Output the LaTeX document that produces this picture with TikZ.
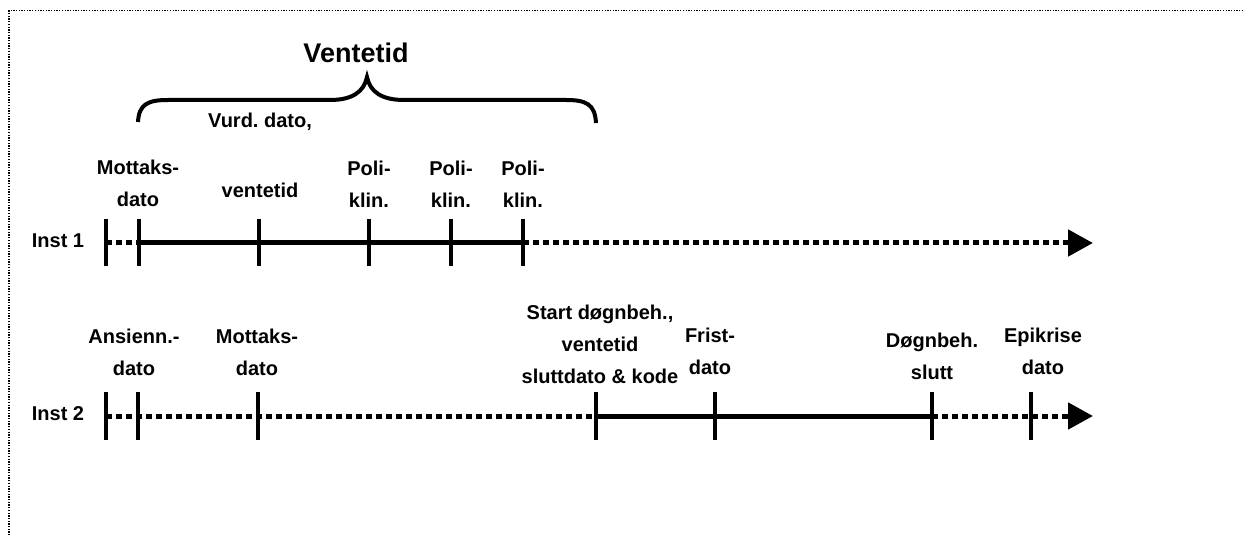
\documentclass[tikz,border=0pt]{standalone}
\usepackage{fontspec}
\setmainfont{Liberation Sans}
\usetikzlibrary{arrows.meta}
\frenchspacing

\begin{document}
\begin{tikzpicture}[%
    x=1pt, y=-1pt,
    line width=5pt,
    fullline/.style={draw=black, line width=5pt},
    dotline/.style={draw=black, line width=5pt, dash pattern=on 5.5pt off 4.5pt},
    tickmark/.style={draw=black, line width=4.5pt},
    bracket/.style={draw=black, line width=4pt},
    arrowend/.style={-{Triangle[length=25pt, width=26pt]}},
    lbl/.style={
        font=\bfseries\fontsize{20}{32}\selectfont,
        align=center,
        anchor=south,
        inner sep=0pt,
        text depth=0pt
    }
]
    % Fixed page size and the dotted frame.
    \useasboundingbox (0,0) rectangle (1243,537);
    \draw[line width=1.3pt, dash pattern=on 1.3pt off 1.4pt]
        (1243,10.5) -- (9,10.5) -- (9,537);

    % Points for the first line.
    \coordinate (r1a) at (106, 243);
    \coordinate (r1b) at (139, 243);
    \coordinate (r1c) at (259, 243);
    \coordinate (r1d) at (369, 243);
    \coordinate (r1e) at (451, 243);
    \coordinate (r1f) at (523, 243);
    \coordinate (r1end) at (1093, 243);

    % Points for the second line.
    \coordinate (r2a) at (106, 416);
    \coordinate (r2b) at (138, 416);
    \coordinate (r2c) at (258, 416);
    \coordinate (r2d) at (596, 416);
    \coordinate (r2e) at (715, 416);
    \coordinate (r2f) at (932, 416);
    \coordinate (r2g) at (1031, 416);
    \coordinate (r2end) at (1093, 416);

    % Points for the brace.
    \coordinate (brl) at (138, 122);
    \coordinate (brtip) at (367, 77);
    \coordinate (brr) at (596, 123);

    % The brace and its label.
    \draw[bracket] (brl) .. controls (139,104) and (148,100) .. (168,100)
                         -- (330,100)
                         .. controls (352,100) and (364,92) .. (brtip)
                         .. controls (370,92) and (382,100) .. (404,100)
                         -- (566,100)
                         .. controls (586,100) and (595,104) .. (brr);
    \node[font=\bfseries\fontsize{27}{30}\selectfont, anchor=base, inner sep=0pt]
        (ventetid) at (356,63) {Ventetid};

    % First line.
    \draw[dotline] (r1a) -- (r1b);
    \draw[fullline] (r1b) -- (r1f);
    \draw[dotline, arrowend] (r1f) -- (r1end);
    \foreach \p in {r1a,r1b,r1c,r1d,r1e,r1f}
        \draw[tickmark] (\p) ++(0,-23.5) -- ++(0,47);

    \node[lbl] (inst1) at (58,250) {Inst 1};
    \node[lbl] (mottak1) at (138,209) {Mottaks-\\dato};
    \node[lbl] (vurd) at (260,200) {Vurd. dato,\\[38pt]ventetid};
    \node[lbl] (poli1) at (369,210) {Poli-\\klin.};
    \node[lbl] (poli2) at (451,210) {Poli-\\klin.};
    \node[lbl] (poli3) at (523,210) {Poli-\\klin.};

    % Second line.
    \draw[dotline] (r2a) -- (r2d);
    \draw[fullline] (r2d) -- (r2f);
    \draw[dotline, arrowend] (r2f) -- (r2end);
    \foreach \p in {r2a,r2b,r2c,r2d,r2e,r2f,r2g}
        \draw[tickmark] (\p) ++(0,-23.5) -- ++(0,47);

    \node[lbl] (inst2) at (58,423) {Inst 2};
    \node[lbl] (ansienn) at (134,378) {Ansienn.-\\dato};
    \node[lbl] (mottak2) at (257,378) {Mottaks-\\dato};
    \node[lbl] (start) at (600,386) {Start døgnbeh.,\\ventetid\\sluttdato \& kode};
    \node[lbl] (frist) at (710,377) {Frist-\\dato};
    \node[lbl] (dogn) at (932,382) {Døgnbeh.\\slutt};
    \node[lbl] (epikrise) at (1043,377) {Epikrise\\dato};
\end{tikzpicture}
\end{document}
